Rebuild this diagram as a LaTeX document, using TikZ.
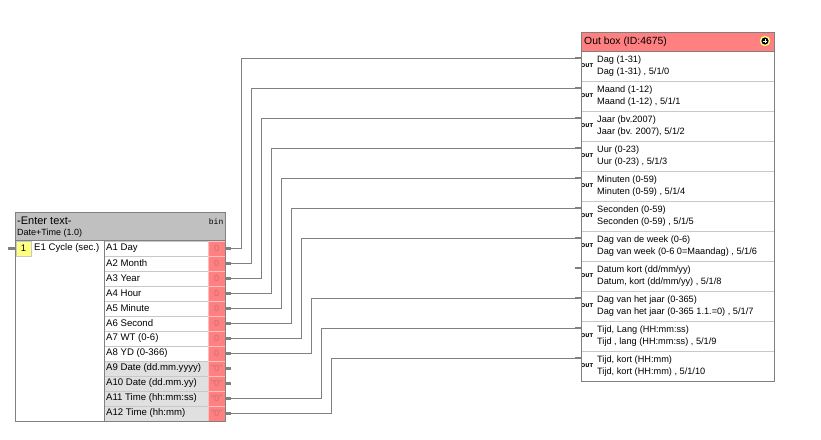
\documentclass[tikz,border=0pt]{standalone}
\usepackage{fontspec}
\setmainfont{Liberation Sans}
\newfontfamily\monofnt{Liberation Mono}
\newfontfamily\outfnt{DejaVu Sans}
\definecolor{hdrgray}{HTML}{C0C0C0}
\definecolor{boxgray}{HTML}{808080}
\definecolor{wiregray}{HTML}{808080}
\definecolor{rowline}{HTML}{C8C8C8}
\definecolor{cellgray}{HTML}{E0E0E0}
\definecolor{outred}{HTML}{FF8080}
\definecolor{redline}{HTML}{FFC0C0}
\definecolor{zerotxt}{HTML}{C87070}
\definecolor{yel}{HTML}{FFFF80}
\begin{document}
\begin{tikzpicture}[x=1pt,y=-1pt,
  rowtxt/.style={anchor=west,inner sep=0pt,font=\fontsize{9.6}{10}\selectfont},
  outtxt/.style={anchor=west,inner sep=0pt,font=\fontsize{9.2}{10}\selectfont},
  zerolbl/.style={inner sep=0pt,text=zerotxt,font=\fontsize{9}{10}\selectfont},
  outlbl/.style={inner sep=0pt,font=\outfnt\bfseries\fontsize{5.2}{6}\selectfont},
  wire/.style={draw=wiregray,line width=1pt},
  stub/.style={draw=wiregray,line width=2.5pt},
  frame/.style={draw=boxgray,line width=1pt}]
\useasboundingbox[fill=white] (0,0) rectangle (821,439);

% ---------- left block ----------
\fill[hdrgray] (15,212) rectangle (225,240);
\node[anchor=west,inner sep=0pt,font=\fontsize{11}{12}\selectfont] (ltitle) at (17,220.5) {-Enter text-};
\node[anchor=west,inner sep=0pt,font=\fontsize{9}{10}\selectfont] (lsub) at (17,233) {Date+Time (1.0)};
\node[anchor=east,inner sep=0pt,font=\monofnt\fontsize{8}{9}\selectfont] (bin) at (223.5,222) {bin};

\foreach \i/\lab in {1/A1 Day,2/A2 Month,3/A3 Year,4/A4 Hour,5/A5 Minute,6/A6 Second,7/A7 WT (0-6),8/A8 YD (0-366),9/A9 Date (dd.mm.yyyy),10/A10 Date (dd.mm.yy),11/A11 Time (hh:mm:ss),12/A12 Time (hh:mm)}{
  \pgfmathsetmacro\t{241+15*(\i-1)}
  \ifnum\i>8 \def\rc{cellgray}\def\zz{"0"}\else\def\rc{white}\def\zz{0}\fi
  \filldraw[fill=\rc,draw=rowline] (104,\t) rectangle (208,\t+15);
  \node[rowtxt] (A\i) at (106,\t+7.5) {\lab};
  \filldraw[fill=outred,draw=redline] (208,\t) rectangle (225,\t+15);
  \node[zerolbl] (z\i) at (216.5,\t+7.5) {\zz};
  \coordinate (a\i) at (231,\t+7.5);
  \draw[stub] (225,\t+7.5) -- (a\i);
}
\draw[frame] (15,212) rectangle (225,421);
\draw[frame] (15,240) -- (225,240);
\draw[boxgray,line width=0.8pt] (104,240) -- (104,421);
\filldraw[fill=yel,draw=rowline] (16,241) rectangle (31,256);
\node[inner sep=0pt,font=\fontsize{9.6}{10}\selectfont] (e1n) at (23.5,248.5) {1};
\node[rowtxt] (e1) at (34,248.5) {E1 Cycle (sec.)};
\coordinate (e1in) at (8,248.5);
\draw[stub] (e1in) -- (15,248.5);

% ---------- right block ----------
\filldraw[fill=outred,draw=boxgray] (581,32) rectangle (774,51);
\node[anchor=west,inner sep=0pt,font=\fontsize{10.4}{11}\selectfont] (rtitle) at (584,41.5) {Out box (ID:4675)};
\fill[yel] (765,41) circle (5.2);
\fill[black] (765,41) circle (3.6);
\draw[white,line width=1pt] (763,41) -- (767,41) (765,39) -- (765,43);

\foreach \j/\la/\lb in {
 1/{Dag (1-31)}/{Dag (1-31) , 5/1/0},
 2/{Maand (1-12)}/{Maand (1-12) , 5/1/1},
 3/{Jaar (bv.2007)}/{Jaar (bv. 2007), 5/1/2},
 4/{Uur (0-23)}/{Uur (0-23) , 5/1/3},
 5/{Minuten (0-59)}/{Minuten (0-59) , 5/1/4},
 6/{Seconden (0-59)}/{Seconden (0-59) , 5/1/5},
 7/{Dag van de week (0-6)}/{Dag van week (0-6 0=Maandag) , 5/1/6},
 8/{Datum kort (dd/mm/yy)}/{Datum, kort (dd/mm/yy) , 5/1/8},
 9/{Dag van het jaar (0-365)}/{Dag van het jaar (0-365 1.1.=0) , 5/1/7},
 10/{Tijd, Lang (HH:mm:ss)}/{Tijd , lang (HH:mm:ss) , 5/1/9},
 11/{Tijd, kort (HH:mm)}/{Tijd, kort (HH:mm) , 5/1/10}}{
  \pgfmathsetmacro\t{51+30*(\j-1)}
  \draw[rowline,line width=1pt] (581,\t+30) -- (774,\t+30);
  \node[outlbl] (ol\j) at (587,\t+15) {OUT};
  \node[outtxt] (ra\j) at (597,\t+9) {\la};
  \node[outtxt] (rb\j) at (597,\t+21.5) {\lb};
  \coordinate (o\j) at (575,\t+7);
  \draw[stub] (o\j) -- (581,\t+7);
}
\draw[frame] (581,32) rectangle (774,381);

% ---------- connectors ----------
\foreach \i/\j/\x in {1/1/241,2/2/251,3/3/261,4/4/271,5/5/281,6/6/291,7/7/301,8/9/311,11/10/321,12/11/331}{
  \coordinate (v\i) at (\x,0);
  \draw[wire] (a\i) -| (v\i |- o\j) -- (o\j);
}
\end{tikzpicture}
\end{document}
